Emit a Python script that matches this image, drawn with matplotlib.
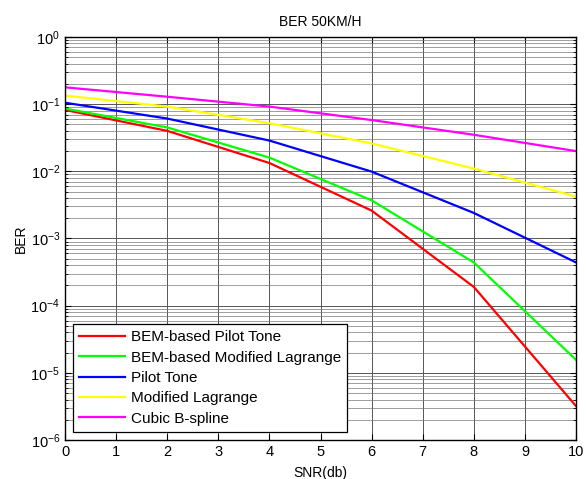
import numpy as np
from matplotlib import pyplot as plt
from matplotlib.ticker import FixedLocator, NullFormatter

snr = [0, 2, 4, 6, 8, 10]
bem_pilot = [0.082, 0.040, 0.0133, 0.0026, 1.9e-4, 3.2e-6]
bem_lagrange = [0.086, 0.045, 0.016, 0.0037, 4.4e-4, 1.56e-5]
pilot = [0.105, 0.061, 0.0287, 0.0099, 0.0024, 4.4e-4]
lagrange = [0.134, 0.092, 0.052, 0.026, 0.011, 0.0042]
bspline = [0.178, 0.129, 0.092, 0.058, 0.035, 0.020]

labels = ['BEM-based Pilot Tone', 'BEM-based Modified Lagrange',
          'Pilot Tone', 'Modified Lagrange', 'Cubic B-spline']
colors = ['#ff0000', '#00ff00', '#0000ff', '#ffff00', '#ff00ff']
exponents = list(range(-6, 1))


def main():
    plt.rcParams['font.family'] = ['Liberation Sans', 'DejaVu Sans']
    plt.rcParams['mathtext.default'] = 'regular'

    fig = plt.figure(figsize=(5.86, 4.79), dpi=100)
    ax = fig.add_axes([0.111, 0.0814, 0.872, 0.8414])

    series = [bem_pilot, bem_lagrange, pilot, lagrange, bspline]
    for ys, lab, c in zip(series, labels, colors):
        ax.semilogy(snr, ys, color=c, label=lab, linewidth=1.6)

    ax.set_xlim(0, 10)
    ax.set_ylim(1e-6, 1)
    ax.xaxis.set_major_locator(FixedLocator(range(0, 11)))
    ax.set_yticks([10.0 ** e for e in exponents])
    ax.set_yticklabels(['$10^{%d}$' % e for e in exponents])
    minors = [m * 10.0 ** e for e in exponents[:-1] for m in range(2, 10)]
    ax.yaxis.set_minor_locator(FixedLocator(minors))
    ax.yaxis.set_minor_formatter(NullFormatter())

    ax.grid(True, which='major', color='#555555', linewidth=0.7)
    ax.grid(True, which='minor', axis='y', color='#777777', linewidth=0.5)
    ax.tick_params(which='both', direction='in', top=True, right=True,
                   labelsize=10.5, colors='black')
    ax.tick_params(which='major', length=4)
    ax.tick_params(which='minor', length=2)
    for sp in ax.spines.values():
        sp.set_linewidth(1.0)

    ax.set_title('BER 50KM/H', fontsize=10, pad=8)
    ax.set_xlabel('SNR(db)', fontsize=10, labelpad=5)
    ax.set_ylabel('BER', fontsize=10, labelpad=2)

    leg = ax.legend(loc='lower left', bbox_to_anchor=(0.0157, 0.02), borderaxespad=0,
                    fontsize=11, fancybox=False, edgecolor='black', framealpha=1,
                    handlelength=3.0, handletextpad=0.4, borderpad=0.4,
                    labelspacing=0.42)
    leg.get_frame().set_linewidth(0.9)

    fig.savefig('out.png', dpi=100)


if __name__ == '__main__':
    main()
